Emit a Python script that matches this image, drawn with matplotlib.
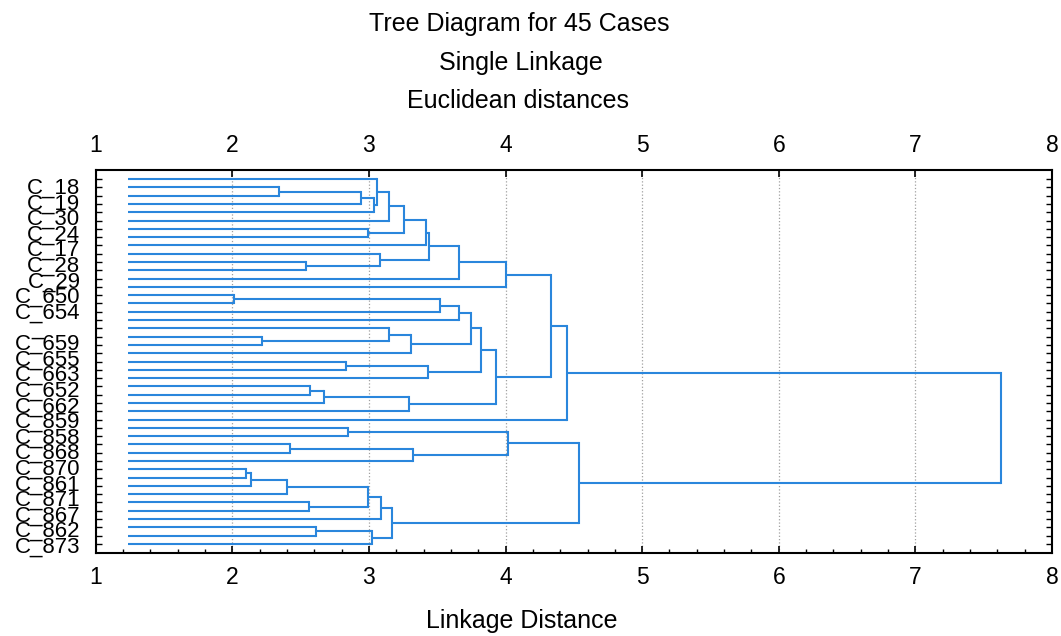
import matplotlib.pyplot as plt
import numpy as np

plt.rcParams['font.family'] = ['Liberation Sans', 'DejaVu Sans']

# leaves are numbered 0..44 from top to bottom; merge k creates cluster id 45 + k
n_leaves = 45
merge_a = [1, 45, 46, 0, 48, 6, 49, 51, 10, 9, 52, 55, 56, 14, 58,
           59, 19, 18, 62, 60, 22, 65, 64, 25, 68, 69, 67, 57, 72, 30,
           32, 75, 74, 35, 78, 79, 39, 80, 82, 42, 84, 83, 77, 73]
merge_b = [2, 3, 4, 47, 5, 7, 50, 8, 11, 53, 54, 12, 13, 15, 16,
           17, 20, 61, 21, 63, 23, 24, 66, 26, 27, 28, 70, 71, 29, 31,
           33, 34, 76, 36, 37, 38, 40, 81, 41, 43, 44, 85, 86, 87]
merge_h = [2.34, 2.94, 3.04, 3.06, 3.15, 2.99, 3.26, 3.42, 2.54, 3.08,
           3.44, 3.66, 4.00, 2.01, 3.52, 3.66, 2.22, 3.15, 3.31, 3.75,
           2.83, 3.43, 3.82, 2.57, 2.67, 3.29, 3.93, 4.33, 4.45, 2.85,
           2.42, 3.32, 4.02, 2.10, 2.14, 2.40, 2.56, 2.99, 3.09, 2.61,
           3.02, 3.17, 4.54, 7.63]
leaf_start = 1.24

case_labels = ['C_18', 'C_19', 'C_30', 'C_24', 'C_17', 'C_28', 'C_29',
               'C_650', 'C_654', '_      ', 'C_659', 'C_655', 'C_663',
               'C_652', 'C_662', 'C_859', 'C_858', 'C_868', 'C_870',
               'C_861', 'C_871', 'C_867', 'C_862', 'C_873']
x_ticks = [1, 2, 3, 4, 5, 6, 7, 8]

line_color = '#2a86dc'

fig = plt.figure(figsize=(10.61, 6.36), dpi=100)
ax = fig.add_axes([95.7 / 1061, 1 - 553 / 636, (1052 - 95.7) / 1061, (553 - 170) / 636])

# positions of every node: leaves first, then each merge
node_x = [leaf_start] * n_leaves
node_y = list(range(n_leaves))
for a, b, h in zip(merge_a, merge_b, merge_h):
    ax.plot([node_x[a], h], [node_y[a], node_y[a]], color=line_color, lw=1.5, solid_capstyle='butt')
    ax.plot([node_x[b], h], [node_y[b], node_y[b]], color=line_color, lw=1.5, solid_capstyle='butt')
    ax.plot([h, h], [node_y[a], node_y[b]], color=line_color, lw=1.5)
    node_x.append(h)
    node_y.append((node_y[a] + node_y[b]) / 2)

ax.set_xlim(1, 8)
ax.set_ylim(n_leaves + 0.1, -1.1)

ax.set_xticks(x_ticks)
ax.set_xticks(np.arange(1, 8.01, 0.2), minor=True)
ax.tick_params(axis='x', which='major', direction='in', top=True, labeltop=True,
               length=5, width=1.2, labelsize=16.5, pad=9)
ax.tick_params(axis='x', which='minor', direction='in', top=False, length=3, width=1)

ax.set_yticks(np.linspace(0.8, 44.1, len(case_labels)), case_labels)
ax.set_yticks(range(n_leaves), minor=True)
ax.tick_params(axis='y', which='major', length=0, labelsize=16, pad=11)
ax.tick_params(axis='y', which='minor', direction='in', left=True, right=True,
               length=4, width=1)

ax.grid(axis='x', which='major', linestyle=':', color='#a0a0a0', linewidth=0.9)
for sp in ax.spines.values():
    sp.set_linewidth(1.5)

fig.text(519 / 1061, 1 - 24 / 636, 'Tree Diagram for 45 Cases', ha='center', va='center', fontsize=18)
fig.text(521 / 1061, 1 - 63 / 636, 'Single Linkage', ha='center', va='center', fontsize=18)
fig.text(518 / 1061, 1 - 101 / 636, 'Euclidean distances', ha='center', va='center', fontsize=18)
fig.text(522 / 1061, 1 - 621 / 636, 'Linkage Distance', ha='center', va='center', fontsize=18)

fig.savefig('out.png', dpi=100, facecolor='white')
